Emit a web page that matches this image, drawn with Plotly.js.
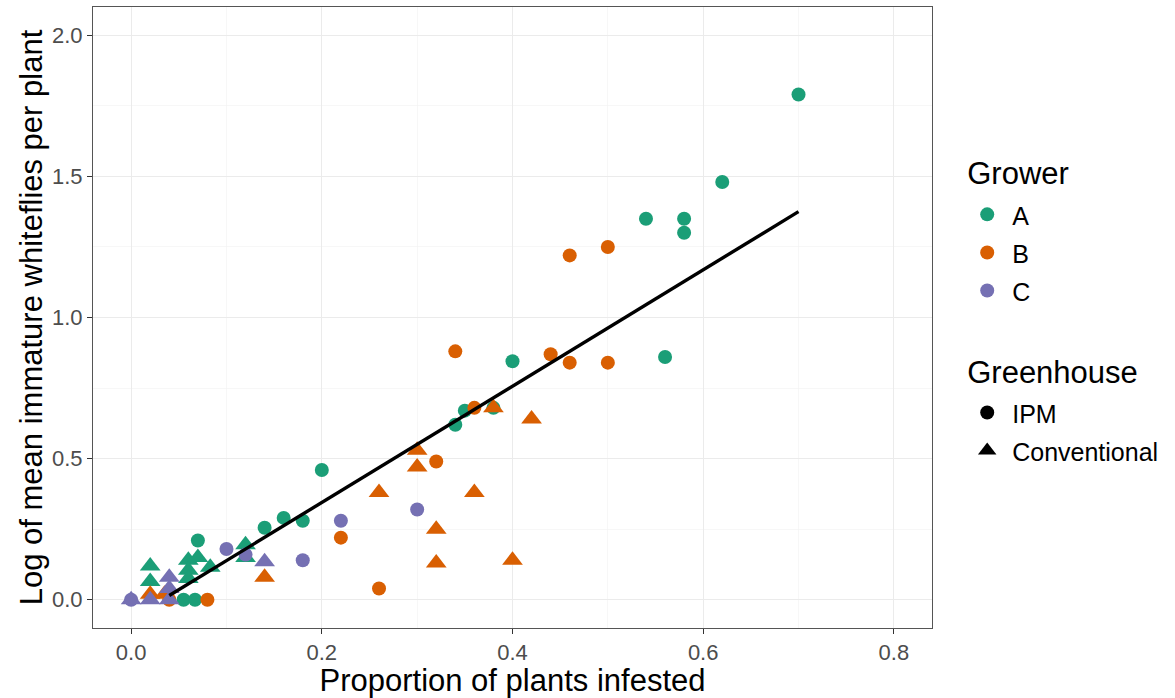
<!DOCTYPE html>
<html>
<head>
<meta charset="utf-8">
<script src="https://cdn.plot.ly/plotly-3.0.1.min.js"></script>
<style>
  html, body { margin: 0; padding: 0; background: #ffffff; }
  #chart { width: 1175px; height: 698px; }
</style>
</head>
<body>
<div id="chart"></div>
<script>
// Proportion of plants infested (x) vs log mean immature whiteflies per plant (y)

// Grower A
const aIpmX  = [0.70, 0.62, 0.54, 0.58, 0.58, 0.56, 0.40, 0.35, 0.38, 0.34, 0.20, 0.18, 0.16, 0.14, 0.07, 0.055, 0.067];
const aIpmY  = [1.79, 1.48, 1.35, 1.35, 1.30, 0.86, 0.845, 0.67, 0.68, 0.62, 0.46, 0.28, 0.29, 0.255, 0.21, 0.0, 0.0];
const aConvX = [0.02, 0.02, 0.06, 0.07, 0.06, 0.083, 0.06, 0.12, 0.12];
const aConvY = [0.12, 0.065, 0.14, 0.15, 0.105, 0.115, 0.075, 0.195, 0.15];

// Grower B
const bIpmX  = [0.46, 0.50, 0.34, 0.44, 0.46, 0.50, 0.36, 0.32, 0.22, 0.26, 0.08, 0.04];
const bIpmY  = [1.22, 1.25, 0.88, 0.87, 0.84, 0.84, 0.68, 0.49, 0.22, 0.04, 0.0, 0.0];
const bConvX = [0.38, 0.42, 0.30, 0.30, 0.26, 0.36, 0.32, 0.32, 0.40, 0.14, 0.02, 0.035];
const bConvY = [0.68, 0.64, 0.53, 0.47, 0.38, 0.38, 0.25, 0.13, 0.14, 0.08, 0.02, 0.02];

// Grower C
const cIpmX  = [0.30, 0.22, 0.18, 0.10, 0.12, 0.0];
const cIpmY  = [0.32, 0.28, 0.14, 0.18, 0.16, 0.0];
const cConvX = [0.14, 0.04, 0.04, 0.0, 0.02, 0.04];
const cConvY = [0.135, 0.08, 0.04, 0.0, 0.0, 0.0];

// Fitted linear trend, evaluated at its two ends
const fitX = [0.04, 0.70];
const fitY = [0.015, 1.375];

const growers = ['A', 'B', 'C'];
const growerColors = {A: '#1B9E77', B: '#D95F02', C: '#7570B3'};
const greenhouses = ['IPM', 'Conventional'];
const greenhouseSymbols = {IPM: 'circle', Conventional: 'triangle-up'};

const series = {
  A: {IPM: [aIpmX, aIpmY], Conventional: [aConvX, aConvY]},
  B: {IPM: [bIpmX, bIpmY], Conventional: [bConvX, bConvY]},
  C: {IPM: [cIpmX, cIpmY], Conventional: [cConvX, cConvY]}
};

const FONT = 'Liberation Sans, Arial, Helvetica, sans-serif';
const CIRCLE_SIZE = 14;
const TRI_SIZE = 18;
const TITLE_SIZE = 31;

// legend rows are spaced from the legend font size; the visible text is set a little smaller
const sized = (txt, px) => '<span style="font-size:' + px + 'px">' + txt + '</span>';

const traces = [];
growers.forEach(g => {
  greenhouses.forEach(h => {
    const [xs, ys] = series[g][h];
    traces.push({
      type: 'scatter', mode: 'markers',
      x: xs, y: ys,
      showlegend: false,
      hoverinfo: 'x+y',
      marker: {
        color: growerColors[g],
        symbol: greenhouseSymbols[h],
        size: h === 'IPM' ? CIRCLE_SIZE : TRI_SIZE,
        line: {width: 0}
      }
    });
  });
});

// trend line on top of the points
traces.push({
  type: 'scatter', mode: 'lines',
  x: fitX, y: fitY,
  showlegend: false, hoverinfo: 'skip',
  line: {color: '#000000', width: 3.4}
});

// legend keys: colour by grower, shape by greenhouse
growers.forEach(g => {
  traces.push({
    type: 'scatter', mode: 'markers',
    x: [null], y: [null],
    name: sized(g, 25),
    legendgroup: 'grower',
    legendgrouptitle: {text: sized('Grower', 31), font: {size: 36, color: '#000000', family: FONT}},
    marker: {color: growerColors[g], symbol: 'circle', size: CIRCLE_SIZE}
  });
});
greenhouses.forEach(h => {
  traces.push({
    type: 'scatter', mode: 'markers',
    x: [null], y: [null],
    name: sized(h, 25),
    legendgroup: 'greenhouse',
    legendgrouptitle: {text: sized('Greenhouse', 31), font: {size: 36, color: '#000000', family: FONT}},
    marker: {color: '#000000', symbol: greenhouseSymbols[h], size: h === 'IPM' ? CIRCLE_SIZE : TRI_SIZE}
  });
});

const axisCommon = {
  showline: true, mirror: true, linecolor: '#555555', linewidth: 1,
  ticks: 'outside', ticklen: 5, tickwidth: 1, tickcolor: '#333333',
  showgrid: true, gridcolor: '#EBEBEB', gridwidth: 1.1,
  zeroline: false,
  tickfont: {family: FONT, size: 22, color: '#4D4D4D'},
  automargin: false
};

const layout = {
  width: 1175, height: 698,
  margin: {l: 93, r: 243, t: 7, b: 70},
  paper_bgcolor: '#ffffff', plot_bgcolor: '#ffffff',
  font: {family: FONT, color: '#000000'},
  xaxis: Object.assign({}, axisCommon, {
    range: [-0.04, 0.84],
    tick0: 0, dtick: 0.2, tickformat: '.1f',
    minor: {dtick: 0.1, showgrid: true, gridcolor: '#F2F2F2', gridwidth: 0.6, ticks: ''},
    title: {text: 'Proportion of plants infested', font: {family: FONT, size: TITLE_SIZE, color: '#000000'}, standoff: 6}
  }),
  yaxis: Object.assign({}, axisCommon, {
    range: [-0.1, 2.1],
    tick0: 0, dtick: 0.5, tickformat: '.1f',
    minor: {dtick: 0.25, showgrid: true, gridcolor: '#F2F2F2', gridwidth: 0.6, ticks: ''},
    title: {text: 'Log of mean immature whiteflies per plant', font: {family: FONT, size: TITLE_SIZE, color: '#000000'}, standoff: 0}
  }),
  legend: {
    x: 1.036, xanchor: 'left', y: 0.785, yanchor: 'top',
    traceorder: 'grouped', tracegroupgap: 34,
    font: {family: FONT, size: 27, color: '#000000'},
    bgcolor: 'rgba(0,0,0,0)', itemwidth: 40
  },
  showlegend: true
};

Plotly.newPlot('chart', traces, layout, {displayModeBar: false, staticPlot: true});
</script>
</body>
</html>
